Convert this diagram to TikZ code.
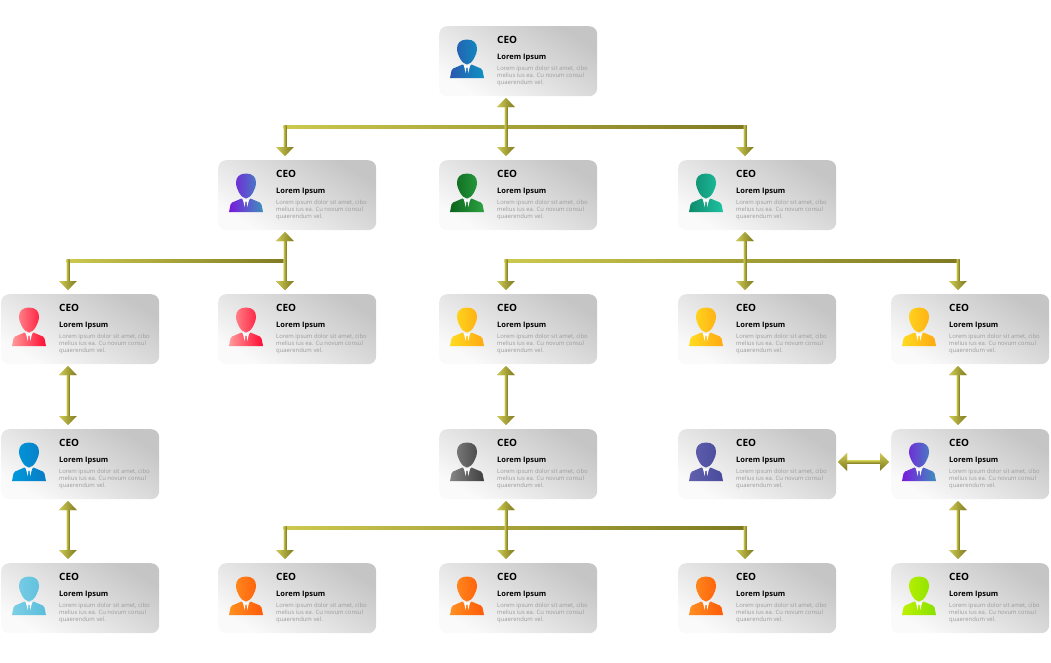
\documentclass[tikz,border=0pt]{standalone}
\usepackage{fontspec}
\setmainfont{Open Sans}
\usetikzlibrary{arrows.meta,calc}
\definecolor{goldL}{HTML}{CCC94F}
\definecolor{goldD}{HTML}{7F7A22}
\definecolor{goldM}{HTML}{A6A138}
\definecolor{boxL}{HTML}{FAFAFA}
\definecolor{boxD}{HTML}{C6C5C6}
\definecolor{bodyG}{HTML}{9C9C9C}
\tikzset{
  x=1pt,y=-1pt,
  card/.style={anchor=north west,minimum width=158pt,minimum height=70pt,inner sep=0pt,rounded corners=8pt,
    bottom color=boxL,top color=boxD,shading angle=-32},
  conn/.style={draw=goldM,line width=3pt},
  tipboth/.style={{Triangle[width=17pt,length=9pt]}-{Triangle[width=17pt,length=9pt]}},
  tipend/.style={-{Triangle[width=17pt,length=9pt]}},
  gold/.style={left color=goldL,right color=goldD},
  goldvert/.style={top color=goldL,bottom color=goldD},
  title/.style={anchor=west,inner sep=0pt,font=\fontsize{10}{12}\selectfont\bfseries},
  sub/.style={anchor=west,inner sep=0pt,font=\fontsize{7.5}{9}\selectfont\bfseries},
  body/.style={anchor=north west,inner sep=0pt,align=left,text=bodyG,font=\fontsize{5.9}{7}\selectfont},
}
% card with person icon and texts
\newcommand{\orgcard}[5]{%
  \definecolor{icA}{HTML}{#4}\definecolor{icB}{HTML}{#5}%
  \node[card] (#1) at (#2,#3) {};
  \begin{scope}[shift={(#2,#3)}]
    \shade[left color=icA,right color=icB]
      (28,13.5) .. controls (34.5,13.5) and (38,17) .. (38,22.5)
      .. controls (38,29) and (33,38) .. (28,38.5)
      .. controls (23,38) and (18,29) .. (18,22.5)
      .. controls (18,17) and (21.5,13.5) .. (28,13.5) -- cycle
      (11,52) -- (12.5,44.5) .. controls (13,42.5) and (15,42) .. (17,41.3)
      -- (23.5,38.5) -- (25.5,40.5) -- (30.5,40.5) -- (32.5,38.5) -- (39,41.3)
      .. controls (41,42) and (43,42.5) .. (43.5,44.5) -- (45,52) -- cycle;
    \fill[white] (25,39.8) -- (26.8,47) -- (27.2,42.5) -- (28,41) -- (28.8,42.5) -- (29.2,47) -- (31,39.8) -- (28,39.5) -- cycle;
  \end{scope}
  \node[title] (#1-h) at ($(#2,#3)+(58,13.6)$) {CEO};
  \node[sub] (#1-s) at ($(#2,#3)+(58,31.8)$) {Lorem Ipsum};
  \node[body] (#1-x) at ($(#2,#3)+(58,39.6)$) {Lorem ipsum dolor sit amet, cibo\\melius ius ea. Cu novum consul\\quaerendum vel.};
  \coordinate (#1-t) at ($(#2,#3)+(67,-4)$);
  \coordinate (#1-b) at ($(#2,#3)+(67,72)$);
  \coordinate (#1-l) at ($(#2,#3)+(-2,33)$);
  \coordinate (#1-r) at ($(#2,#3)+(160,33)$);
}
% shaded arrow heads
\newcommand{\tipup}[1]{\shade[gold] (#1) -- ($(#1)+(-8.5,9)$) -- ($(#1)+(8.5,9)$) -- cycle;}
\newcommand{\tipdown}[1]{\shade[gold] (#1) -- ($(#1)+(-8.5,-9)$) -- ($(#1)+(8.5,-9)$) -- cycle;}
% double-headed vertical link
\newcommand{\vlink}[2]{%
  \draw[conn,tipboth] (#1) -- (#2);
  \shade[gold] ($(#1)+(-1.5,8)$) rectangle ($(#2)+(1.5,-8)$);
  \tipup{#1}\tipdown{#2}}
% double-headed horizontal link
\newcommand{\hlink}[2]{%
  \draw[conn,tipboth] (#1) -- (#2);
  \shade[goldvert] ($(#1)+(8,-1.5)$) rectangle ($(#2)+(-8,1.5)$);
  \shade[goldvert] (#1) -- ($(#1)+(9,-8.5)$) -- ($(#1)+(9,8.5)$) -- cycle;
  \shade[goldvert] (#2) -- ($(#2)+(-9,-8.5)$) -- ($(#2)+(-9,8.5)$) -- cycle;}
% bar with drops to the targets
\newcommand{\barto}[3]{%
  \draw[conn,tipend] (#1) -| (#2);
  \draw[conn,tipend] (#1) -| (#3);
  \shade[gold] ($(#2|-#1)+(-1.5,-1.5)$) rectangle ($(#3|-#1)+(1.5,1.5)$);
  \shade[gold] ($(#2|-#1)+(-1.5,-1.5)$) rectangle ($(#2)+(1.5,-8)$);
  \shade[gold] ($(#3|-#1)+(-1.5,-1.5)$) rectangle ($(#3)+(1.5,-8)$);
  \tipdown{#2}\tipdown{#3}}
\begin{document}
\begin{tikzpicture}
\useasboundingbox (0,0) rectangle (1051,662);
\orgcard{ceo}{439}{26}{2A58AE}{0E92C2}
\orgcard{n1}{218}{160}{7A18DC}{3E90BE}
\orgcard{n2}{439}{160}{0B641C}{2CA342}
\orgcard{n3}{678}{160}{0E8A6C}{1EC2A2}
\orgcard{a1}{1}{294}{FF9A9A}{FF0A32}
\orgcard{a2}{218}{294}{FF9A9A}{FF0A32}
\orgcard{a3}{439}{294}{FFDC20}{FFA812}
\orgcard{a4}{678}{294}{FFDC20}{FFA812}
\orgcard{a5}{891}{294}{FFDC20}{FFA812}
\orgcard{b1}{1}{429}{0098DC}{0A7CC4}
\orgcard{b2}{439}{429}{858585}{3E3E3E}
\orgcard{b3}{678}{429}{6060AE}{4A4A9C}
\orgcard{b4}{891}{429}{7A18DC}{3E90BE}
\orgcard{c1}{1}{563}{7CCFE6}{5ABEDC}
\orgcard{c2}{218}{563}{FF9020}{FF5A08}
\orgcard{c3}{439}{563}{FF9020}{FF5A08}
\orgcard{c4}{678}{563}{FF9020}{FF5A08}
\orgcard{c5}{891}{563}{BEF200}{88E000}
\coordinate (bar1) at (506,127);
\coordinate (bar2) at (285,261);
\coordinate (bar3) at (745,261);
\coordinate (bar4) at (506,528);
\barto{bar1}{n1-t}{n3-t}
\barto{bar2}{a1-t}{a2-t}
\barto{bar3}{a3-t}{a5-t}
\barto{bar4}{c2-t}{c4-t}
\vlink{ceo-b}{n2-t}
\vlink{n1-b}{a2-t}
\vlink{n3-b}{a4-t}
\vlink{b2-b}{c3-t}
\vlink{a1-b}{b1-t}
\vlink{b1-b}{c1-t}
\vlink{a3-b}{b2-t}
\vlink{a5-b}{b4-t}
\vlink{b4-b}{c5-t}
\hlink{b3-r}{b4-l}
\end{tikzpicture}
\end{document}
